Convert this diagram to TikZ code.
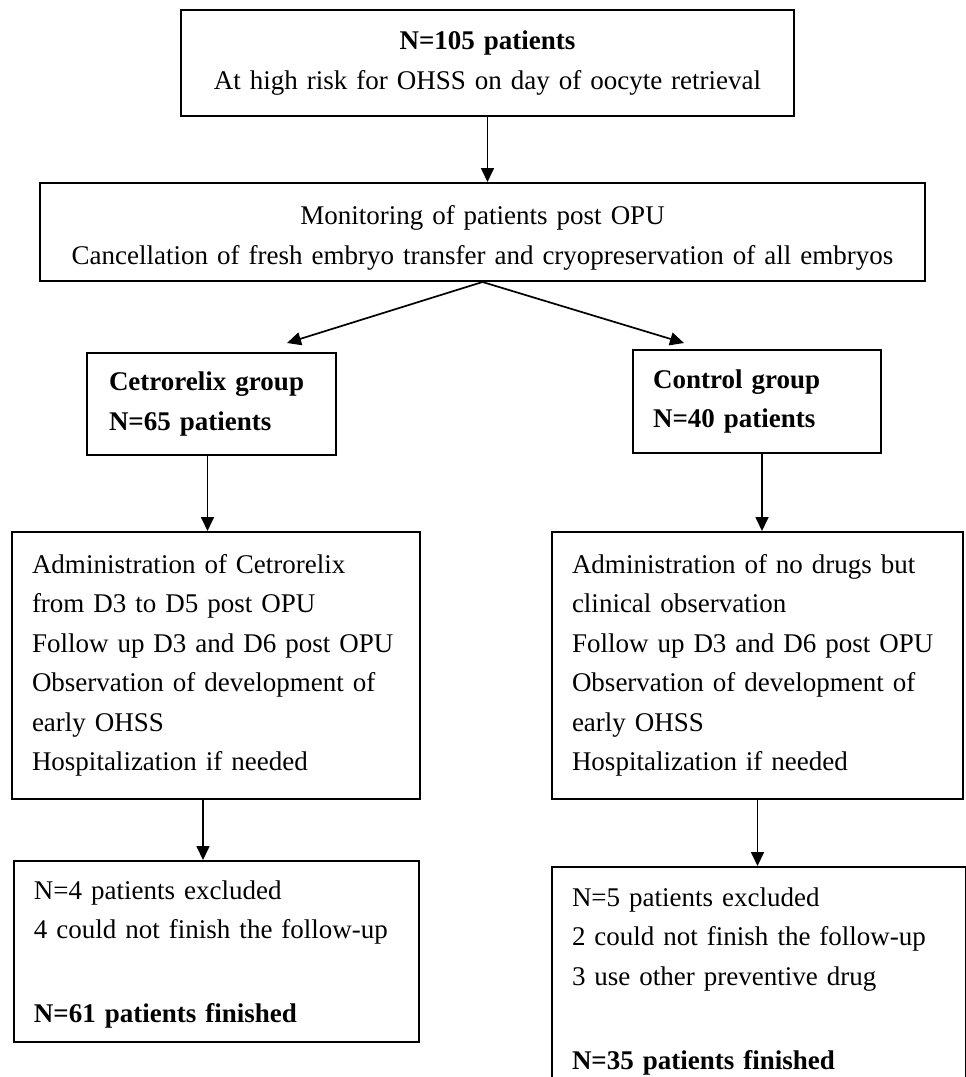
\documentclass[tikz,border=0pt]{standalone}
\usepackage{fontspec}
\setmainfont{Liberation Serif}
\usetikzlibrary{arrows.meta,calc}
\begin{document}
\begin{tikzpicture}[x=1pt,y=-1pt,
  box/.style={draw=black, line width=2pt, anchor=north west, inner xsep=20pt, inner ysep=0pt,
    font=\fontsize{27}{39.5}\selectfont, align=left},
  arr/.style={line width=1.7pt, -{Triangle[length=14pt,width=13pt]}}]
\useasboundingbox (0,0) rectangle (966,1077);
\fill[white] (0,0) rectangle (966,1077);
\begin{scope}
\clip (0,0) rectangle (966,1077);
\node[box, align=center, minimum width=613pt, minimum height=106pt, text width=573pt] (top) at (180,9)
  {\textbf{N=105 patients}\\At high risk for OHSS on day of oocyte retrieval};
\node[box, align=center, minimum width=885pt, minimum height=98pt, text width=845pt] (mon) at (39,182)
  {\rule{0pt}{31pt}Monitoring of patients post OPU\\Cancellation of fresh embryo transfer and cryopreservation of all embryos};
\node[box, inner xsep=22pt, minimum width=249pt, minimum height=102pt, text width=205pt] (cet) at (86,352)
  {\textbf{Cetrorelix group}\\\textbf{N=65 patients}};
\node[box, minimum width=248pt, minimum height=103pt, text width=208pt] (con) at (632,349)
  {\textbf{Control group}\\\textbf{N=40 patients}};
\node[box, minimum width=408pt, minimum height=267pt, text width=368pt] (admL) at (11,531)
  {Administration of Cetrorelix\\from D3 to D5 post OPU\\Follow up D3 and D6 post OPU\\Observation of development of\\early OHSS\\Hospitalization if needed};
\node[box, minimum width=411pt, minimum height=267pt, text width=371pt] (admR) at (551,531)
  {Administration of no drugs but\\clinical observation\\Follow up D3 and D6 post OPU\\Observation of development of\\early OHSS\\Hospitalization if needed};
\node[box, minimum width=405pt, minimum height=181pt, text width=365pt] (exL) at (13,860)
  {\rule{0pt}{24pt}N=4 patients excluded\\4 could not finish the follow-up\\[44pt]\textbf{N=61 patients finished}};
\node[box, minimum width=414pt, minimum height=226pt, text width=374pt] (exR) at (551,866)
  {\rule{0pt}{22pt}N=5 patients excluded\\2 could not finish the follow-up\\3 use other preventive drug\\[45pt]\textbf{N=35 patients finished}};
\coordinate (cetTip) at (287,343);
\coordinate (conTip) at (684,343);
\draw[arr] (top.south) -- (top.south |- mon.north);
\draw[arr] (mon.south) -- (cetTip);
\draw[arr] (mon.south) -- (conTip);
\draw[arr] ([xshift=-4pt]cet.south) -- ([xshift=-4pt]cet.south |- admL.north);
\draw[arr] ([xshift=5pt]con.south) -- ([xshift=5pt]con.south |- admR.north);
\draw[arr] ([xshift=-13pt]admL.south) -- ([xshift=-13pt]admL.south |- exL.north);
\draw[arr] (admR.south) -- (admR.south |- exR.north);
\end{scope}
\end{tikzpicture}
\end{document}
